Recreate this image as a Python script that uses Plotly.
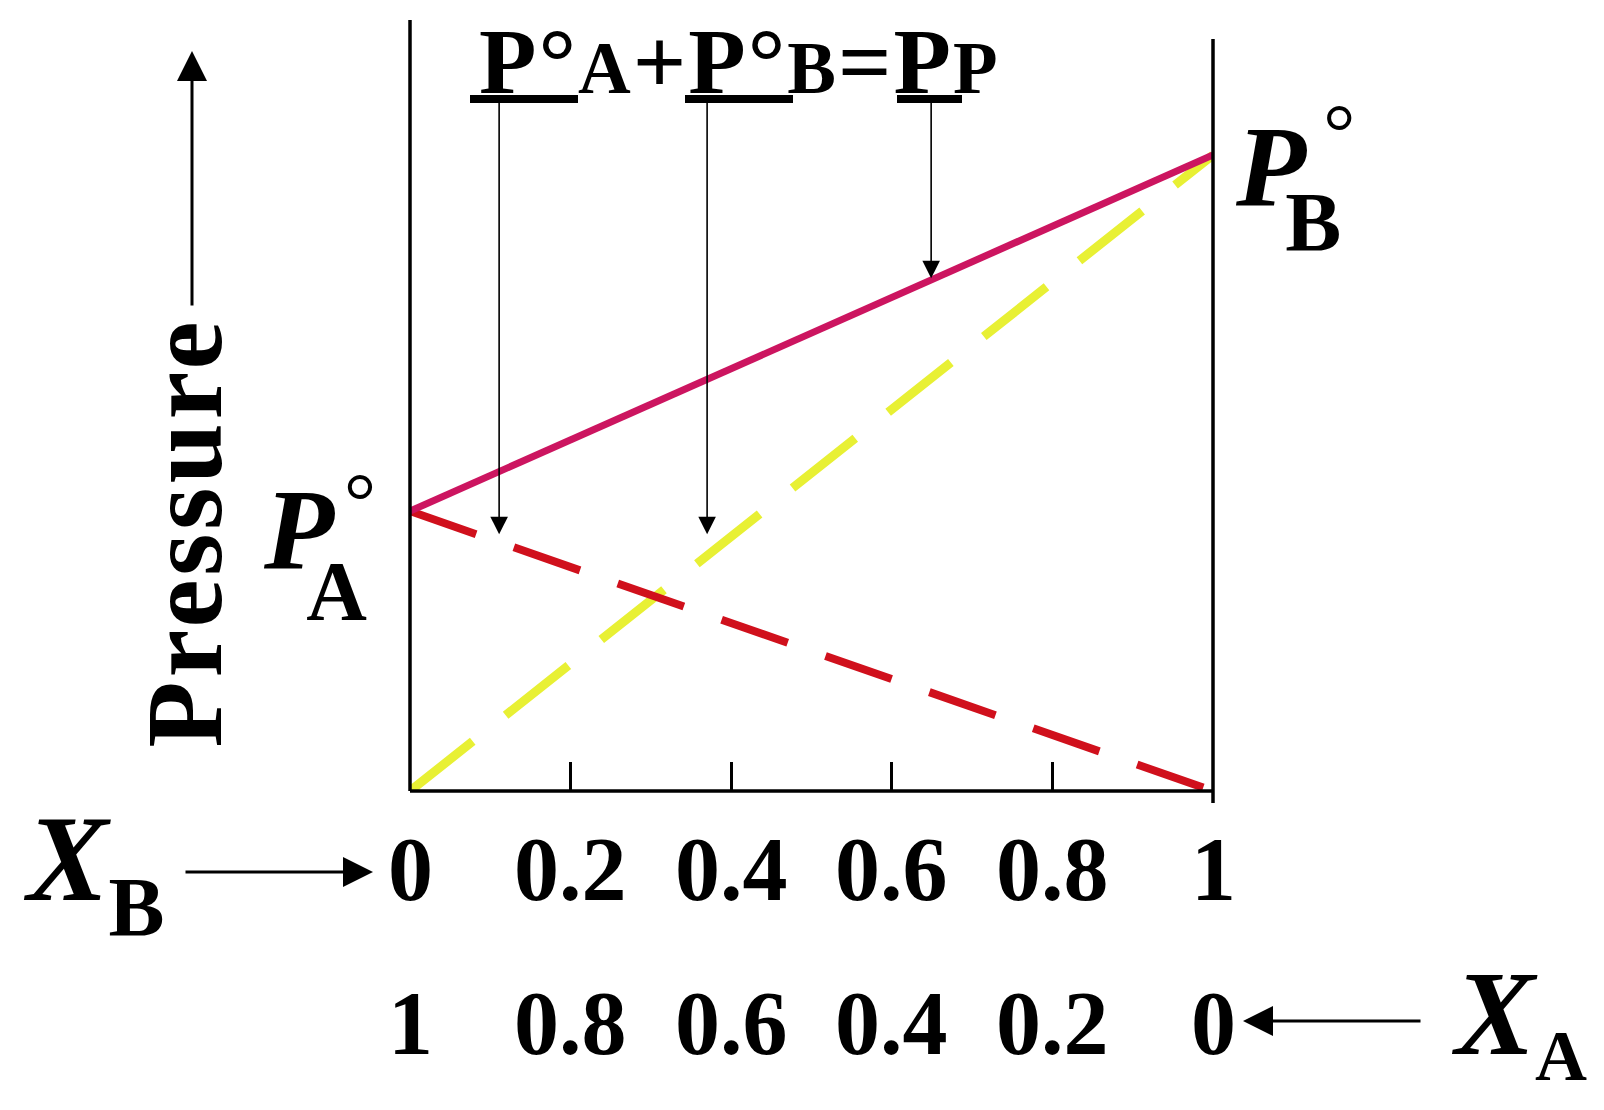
import plotly.graph_objects as go

# ---------------- data ----------------
x_B = [0.0, 1.0]                 # mole fraction of B
p_total = [0.363, 0.825]         # total pressure  P = P°A·XA + P°B·XB
p_A = [0.363, 0.0]               # partial pressure of A
p_B = [0.0, 0.825]               # partial pressure of B

xB_tickvals = [0, 0.2, 0.4, 0.6, 0.8, 1]
xB_ticktext = ["0", "0.2", "0.4", "0.6", "0.8", "1"]
xA_ticktext = ["1", "0.8", "0.6", "0.4", "0.2", "0"]

# where the three pointer arrows from the equation land (x_B, pressure)
pointer_x = [0.111, 0.370, 0.649]
pointer_y = [0.333, 0.333, 0.665]

# ---------------- geometry helpers ----------------
OFF = 8                      # page body margin
W, H = 1604 - 2 * OFF, 1110 - 2 * OFF
L, R, T, B = 410, 1213, 20, 791   # plot area in page pixels


def PX(x):
    return (x - L) / (R - L)


def PY(y):
    return (B - y) / (B - T)


FONT = "Liberation Serif"
annotations = []
shapes = []


def put(text, cx, baseline, size, xref="paper", xval=None):
    yc = baseline - 0.3375 * size
    xv = PX(cx) if xval is None else xval
    annotations.append(dict(
        xref=xref, yref="paper", x=xv, y=PY(yc), xanchor="center", yanchor="middle",
        text=text, showarrow=False, borderpad=0,
        font=dict(family=FONT, size=size, color="black", weight="bold"),
    ))


def put_rich(text, left, yc, size):
    annotations.append(dict(
        xref="paper", yref="paper", x=PX(left), y=PY(yc), xanchor="left", yanchor="middle",
        text=text, showarrow=False, borderpad=0,
        font=dict(family=FONT, size=size, color="black", weight="bold"),
    ))


def span(txt, **st):
    css = ";".join("%s:%s" % (k.replace("_", "-"), v) for k, v in st.items())
    return "<span style='%s'>%s</span>" % (css, txt)


fig = go.Figure()

fig.add_trace(go.Scatter(x=x_B, y=p_B, mode="lines", hoverinfo="skip", showlegend=False,
                         line=dict(color="#E8F034", width=9, dash="80px,42px")))
fig.add_trace(go.Scatter(x=x_B, y=p_A, mode="lines", hoverinfo="skip", showlegend=False,
                         line=dict(color="#D0101C", width=8, dash="70px,40px")))
fig.add_trace(go.Scatter(x=x_B, y=p_total, mode="lines", hoverinfo="skip", showlegend=False,
                         line=dict(color="#CC1560", width=7)))

# ---------------- frame lines ----------------
LW = 3.5
shapes.append(dict(type="line", xref="paper", yref="paper", x0=0, x1=0, y0=0, y1=1,
                   line=dict(color="black", width=LW)))
shapes.append(dict(type="line", xref="paper", yref="paper", x0=1, x1=1, y0=PY(803), y1=PY(39),
                   line=dict(color="black", width=LW)))
shapes.append(dict(type="line", xref="paper", yref="paper", x0=0, x1=1, y0=0, y1=0,
                   line=dict(color="black", width=LW)))

# ---------------- equation at the top ----------------
def big(t):
    return span(t, letter_spacing="2px")


def small(t):
    return span(t, font_size="73px", letter_spacing="2px")


title = big("P°") + small("A") + big("+P°") + small("B") + big("=P") + small("P")
put(title, 739, 93, 94)

for x0, x1 in [(470, 578), (685, 793), (897, 962)]:
    shapes.append(dict(type="rect", xref="paper", yref="paper",
                       x0=PX(x0), x1=PX(x1), y0=PY(103), y1=PY(95),
                       fillcolor="black", line=dict(width=0)))

for xv, yv in zip(pointer_x, pointer_y):
    annotations.append(dict(x=xv, y=yv, xref="x", yref="y", ax=xv, ay=PY(95),
                            axref="x", ayref="y", text="", showarrow=True,
                            arrowhead=2, arrowsize=2.2, arrowwidth=1.6, arrowcolor="black"))

# ---------------- P°A and P°B labels (single rich texts) ----------------
pa = (span("P", font_style="italic", letter_spacing="-28px")
      + span("A", font_size="84px", baseline_shift="-52px", letter_spacing="-23px")
      + span("°", font_size="80px", font_weight="normal", baseline_shift="40px"))
put_rich(pa, 262, 547.3, 115)

pb = (span("P", font_style="italic", letter_spacing="-21px")
      + span("B", font_size="84px", baseline_shift="-46px", letter_spacing="-18px")
      + span("°", font_size="80px", font_weight="normal", baseline_shift="46px"))
put_rich(pb, 1234, 178.4, 115)

# ---------------- Pressure label with arrow ----------------
annotations.append(dict(
    xref="paper", yref="paper", x=PX(220 - 0.3375 * 108), y=PY(533), xanchor="center",
    yanchor="middle", text=span("Pressure", letter_spacing="4px"), showarrow=False,
    textangle=-90, borderpad=0,
    font=dict(family=FONT, size=108, color="black", weight="bold")))
annotations.append(dict(xref="paper", yref="paper", x=PX(192), y=PY(51), ax=0, ay=256,
                        text="", showarrow=True, arrowhead=2, arrowsize=2.0,
                        arrowwidth=3, arrowcolor="black"))

# ---------------- X_B row ----------------
xb = span("X", font_style="italic") + span("B", font_size="84px", baseline_shift="-36px")
put_rich(xb, 22, 872.7, 122)
annotations.append(dict(xref="paper", yref="paper", x=PX(373), y=PY(872), ax=-189, ay=0,
                        text="", showarrow=True, arrowhead=2, arrowsize=2.0,
                        arrowwidth=3, arrowcolor="black"))
for v, t in zip(xB_tickvals, xB_ticktext):
    put(t, 0, 900, 90, xref="x", xval=v)

# ---------------- X_A row ----------------
for v, t in zip(xB_tickvals, xA_ticktext):
    put(t, 0, 1054, 90, xref="x", xval=v)
annotations.append(dict(xref="paper", yref="paper", x=PX(1243), y=PY(1021), ax=179, ay=0,
                        text="", showarrow=True, arrowhead=2, arrowsize=2.0,
                        arrowwidth=3, arrowcolor="black"))
# X baseline 1054 (size 120), A baseline 1080 (size 72)
xa = span("X", font_style="italic") + span("A", font_size="72px", baseline_shift="-26px")
put_rich(xa, 1450, (1054 - 0.891 * 120 + 1080 + 0.216 * 72) / 2, 120)

fig.update_layout(
    width=W, height=H, autosize=False,
    margin=dict(l=L - OFF, r=(OFF + W) - R, t=T - OFF, b=(OFF + H) - B, pad=0),
    paper_bgcolor="white", plot_bgcolor="white",
    showlegend=False,
    xaxis=dict(range=[0, 1], showgrid=False, zeroline=False, showline=False,
               tickmode="array", tickvals=xB_tickvals, ticks="inside", ticklen=29,
               tickwidth=3, tickcolor="black", showticklabels=False, fixedrange=True),
    yaxis=dict(range=[0, 1], showgrid=False, zeroline=False, showline=False,
               showticklabels=False, ticks="", fixedrange=True),
    shapes=shapes,
    annotations=annotations,
)

fig.write_html("out.html")
